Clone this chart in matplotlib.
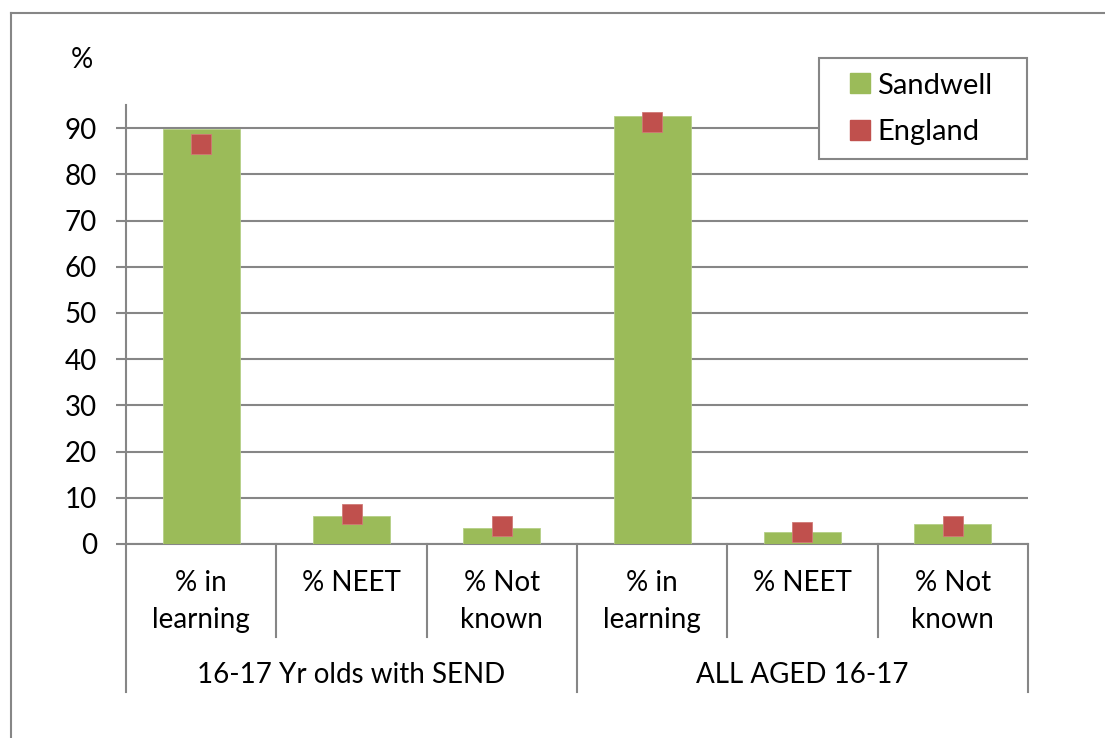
import matplotlib
matplotlib.use("Agg")
import matplotlib.pyplot as plt
from matplotlib.lines import Line2D
from matplotlib.patches import Rectangle

groups = ["16-17 Yr olds with SEND", "ALL AGED 16-17"]
measures = ["% in\nlearning", "% NEET", "% Not\nknown"]
sandwell = [89.8, 6.1, 3.4, 92.6, 2.7, 4.3]
england = [86.5, 6.4, 4.0, 91.4, 2.6, 4.0]
yticks = [0, 10, 20, 30, 40, 50, 60, 70, 80, 90]

green = "#9BBB59"
red = "#C0504D"
grey = "#868686"
font = "Lato"
size = 20

plt.rcParams["font.family"] = [font, "DejaVu Sans"]

figure = plt.figure(figsize=(11.05, 7.38), dpi=100)
W, H = 1105.0, 738.0
axes = figure.add_axes([126 / W, 1 - 544 / H, (1028 - 126) / W, (544 - 105) / H])

positions = list(range(len(sandwell)))
axes.bar(positions, sandwell, width=0.51, color=green, edgecolor="#B5CF86", linewidth=0.6, zorder=3)
axes.plot(positions, england, linestyle="none", marker="s", markersize=14.5,
          markerfacecolor=red, markeredgecolor="#D07A77", markeredgewidth=0.6, zorder=4)

axes.set_xlim(-0.5, len(sandwell) - 0.5)
axes.set_ylim(0, 95)
axes.set_yticks(yticks)
axes.set_yticklabels([str(v) for v in yticks], fontsize=size)
axes.tick_params(axis="y", length=7, width=1.5, color=grey, pad=14)
axes.set_xticks([])
axes.grid(axis="y", color=grey, linewidth=1.5, zorder=0)
for side in ["top", "right"]:
    axes.spines[side].set_visible(False)
for side in ["left", "bottom"]:
    axes.spines[side].set_color(grey)
    axes.spines[side].set_linewidth(1.5)

# category labels and separators under the axis
trans = axes.get_xaxis_transform()
for i, pos in enumerate(positions):
    axes.text(pos, -0.060, measures[i % len(measures)], transform=trans, ha="center", va="top",
              fontsize=size, linespacing=1.5)
for edge in range(len(sandwell) + 1):
    x = edge - 0.5
    bottom = -0.337 if edge % len(measures) == 0 else -0.212
    axes.plot([x, x], [0, bottom], transform=trans, color=grey, linewidth=1.5, clip_on=False)
for g, name in enumerate(groups):
    centre = g * len(measures) + (len(measures) - 1) / 2
    axes.text(centre, -0.298, name, transform=trans, ha="center", va="center", fontsize=size)

figure.text(82 / W, 1 - 60 / H, "%", ha="center", va="center", fontsize=size)

# legend box drawn separately so its padding can differ per side
figure.add_artist(Rectangle((819 / W, 1 - 159 / H), (1027 - 819) / W, (159 - 58) / H,
                            transform=figure.transFigure, facecolor="white", edgecolor=grey,
                            linewidth=1.5, zorder=5))
handles = [
    Line2D([], [], linestyle="none", marker="s", markersize=14.5, markerfacecolor=green, markeredgecolor=green),
    Line2D([], [], linestyle="none", marker="s", markersize=14.5, markerfacecolor=red, markeredgecolor=red),
]
legend = figure.legend(handles, ["Sandwell", "England"], loc="upper left",
                       bbox_to_anchor=(819 / W, 1 - 58 / H), fontsize=21,
                       frameon=False, handlelength=1.8, handletextpad=-0.3,
                       borderpad=0.5, labelspacing=0.7, borderaxespad=0)
legend.set_zorder(6)

# outer chart border, clipped by the right and bottom edges
figure.add_artist(Line2D([11 / W, 1.01], [1 - 13 / H] * 2, color=grey, linewidth=1.5))
figure.add_artist(Line2D([11 / W] * 2, [1 - 13 / H, -0.01], color=grey, linewidth=1.5))

figure.savefig("out.png", dpi=100, facecolor="white")
